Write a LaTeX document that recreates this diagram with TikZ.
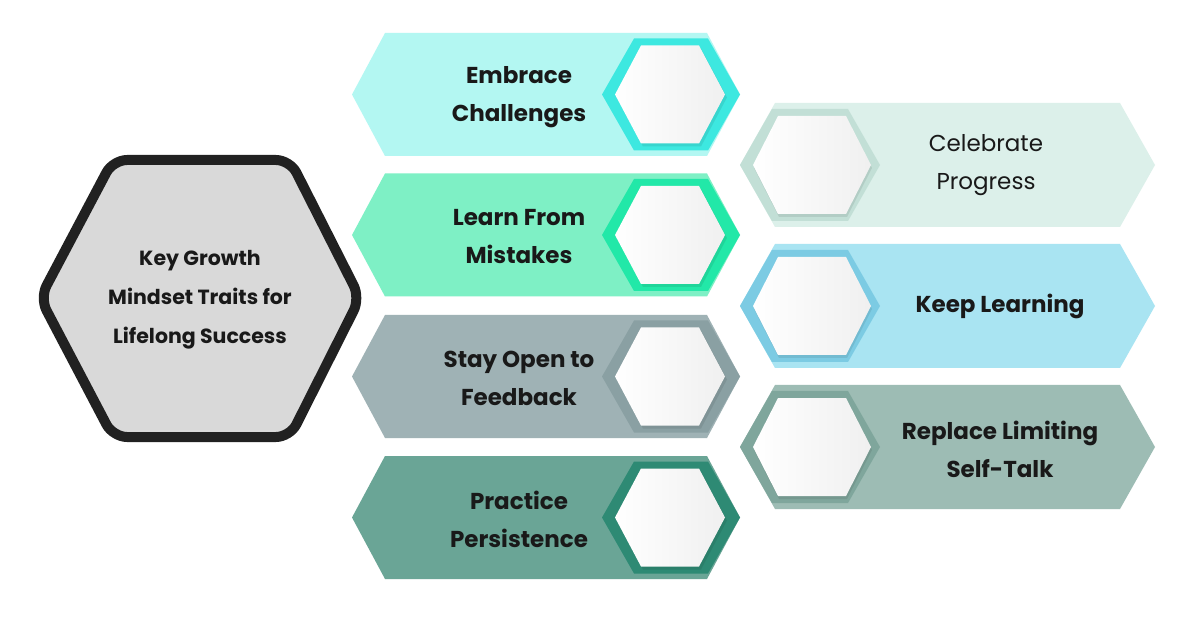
\documentclass[tikz,border=0pt]{standalone}
\usepackage{fontspec}
\setmainfont{Poppins}
\begin{document}
\newcommand{\hexP}[5]{(#1-#3,#2) -- (#1-#3+#5,#2-#4) -- (#1+#3-#5,#2-#4) -- (#1+#3,#2) -- (#1+#3-#5,#2+#4) -- (#1-#3+#5,#2+#4) -- cycle}
\begin{tikzpicture}[x=1pt,y=-1pt,
  lbl/.style={align=center,font=\fontsize{23}{38}\selectfont\bfseries,text=black!90},
  white hex/.style={left color=white,right color=black!6,draw=none}]
\useasboundingbox (0,0) rectangle (1200,628);
\fill[white] (0,0) rectangle (1200,628);
\definecolor{bA}{HTML}{B3F7F2}\definecolor{rA}{HTML}{3DE8E0}
\definecolor{bB}{HTML}{7EF0C5}\definecolor{rB}{HTML}{22E8A8}
\definecolor{bC}{HTML}{9FB2B5}\definecolor{rC}{HTML}{8AA0A3}
\definecolor{bD}{HTML}{6AA596}\definecolor{rD}{HTML}{2E8A74}
\definecolor{bE}{HTML}{DCF0EA}\definecolor{rE}{HTML}{C2DFD6}
\definecolor{bF}{HTML}{A9E4F2}\definecolor{rF}{HTML}{7CCBE3}
\definecolor{bG}{HTML}{9DBCB4}\definecolor{rG}{HTML}{7FA69C}
% central hexagon
\draw[line width=10pt,draw=black!87,fill=black!15,rounded corners=14pt,line join=round]
  (40,298) -- (113,160) -- (290,160) -- (360,298) -- (290,437) -- (113,437) -- cycle;
\node[lbl,font=\fontsize{20.5}{39}\selectfont\bfseries] (center) at (200,300) {Key Growth\\Mindset Traits for\\Lifelong Success};
% left banners
\foreach \c/\b/\r in {94.5/bA/rA,235/bB/rB,376.5/bC/rC,517.5/bD/rD}{
  \fill[\b] (352,\c) -- (385,\c-61.5) -- (707,\c-61.5) -- (740,\c) -- (707,\c+61.5) -- (385,\c+61.5) -- cycle;
  \fill[\r] \hexP{671}{\c}{69}{56}{32};
  \fill[black,opacity=0.08] \hexP{672}{\c+3}{55}{49}{26};
  \shade[white hex] \hexP{670}{\c}{55}{49}{26};
}
% right banners
\foreach \c/\b/\r in {165/bE/rE,306/bF/rF,447/bG/rG}{
  \fill[\b] (740,\c) -- (775,\c-62) -- (1120,\c-62) -- (1155,\c) -- (1120,\c+62) -- (775,\c+62) -- cycle;
  \fill[\r] \hexP{810}{\c}{70}{56}{32};
  \fill[black,opacity=0.08] \hexP{813}{\c+3}{59}{49}{25};
  \shade[white hex] \hexP{812}{\c}{59}{49}{25};
}
\node[lbl] (t1) at (519,97) {Embrace\\Challenges};
\node[lbl] (t2) at (519,237) {Learn From\\Mistakes};
\node[lbl] (t3) at (519,378) {Stay Open to\\Feedback};
\node[lbl] (t4) at (519,519) {Practice\\Persistence};
\node[lbl,font=\fontsize{23}{38}\selectfont] (t5) at (986,165) {Celebrate\\Progress};
\node[lbl] (t6) at (1000,306) {Keep Learning};
\node[lbl] (t7) at (1000,449) {Replace Limiting\\Self-Talk};
\end{tikzpicture}
\end{document}
